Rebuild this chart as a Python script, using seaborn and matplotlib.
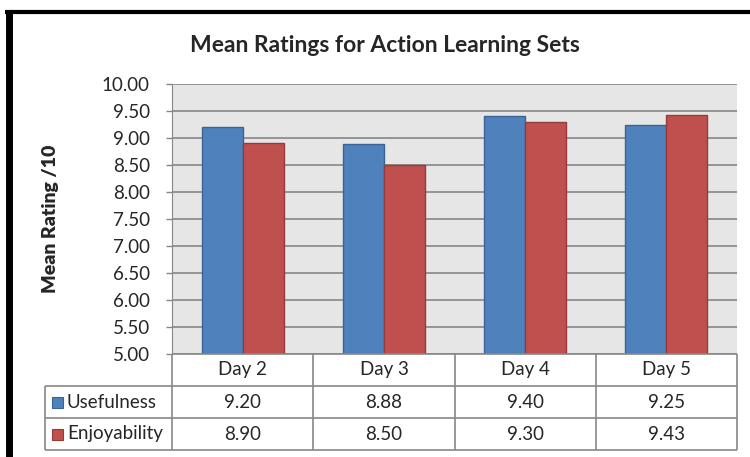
import pandas as pd
import seaborn as sns
import matplotlib.pyplot as plt
from matplotlib.lines import Line2D
from matplotlib.patches import Rectangle

days = ["Day 2", "Day 3", "Day 4", "Day 5"]
series = ["Usefulness", "Enjoyability"]
usefulness = [9.20, 8.88, 9.40, 9.25]
enjoyability = [8.90, 8.50, 9.30, 9.43]
yticks = [5.0, 5.5, 6.0, 6.5, 7.0, 7.5, 8.0, 8.5, 9.0, 9.5, 10.0]

colors = {"Usefulness": "#4F81BD", "Enjoyability": "#C0504D"}
edges = {"Usefulness": "#3B6394", "Enjoyability": "#953B39"}

df = pd.DataFrame({
    "Day": days * 2,
    "Series": ["Usefulness"] * 4 + ["Enjoyability"] * 4,
    "Rating": usefulness + enjoyability,
})

sns.set_style("white")
plt.rcParams["font.family"] = ["Lato", "DejaVu Sans"]

W, H = 750, 457
fig = plt.figure(figsize=(7.5, 4.57), dpi=100)

# plot area in pixels: x 172-737, y 84-354
ax = fig.add_axes([172 / W, 1 - 354 / H, 565 / W, 270 / H])
sns.barplot(data=df, x="Day", y="Rating", hue="Series", palette=colors,
            width=0.58, ax=ax, legend=False, saturation=1)
for patch, s in zip(ax.patches, ["Usefulness"] * 4 + ["Enjoyability"] * 4):
    patch.set_edgecolor(edges[s])
    patch.set_linewidth(1)

ax.set_facecolor("#E6E6E6")
ax.set_ylim(5, 10)
ax.set_xlim(-0.5, 3.5)
ax.set_yticks(yticks)
ax.set_yticklabels([f"{v:.2f}" for v in yticks], fontsize=13.5)
ax.set_xticks([])
ax.set_xlabel("")
ax.set_ylabel("Mean Rating /10", fontsize=14, fontweight="heavy")
ax.yaxis.set_label_coords((59 - 172) / 565, 0.5)
ax.yaxis.grid(True, color="#878787", linewidth=1.2)
ax.set_axisbelow(True)
ax.tick_params(axis="y", length=4, width=1, color="#878787", pad=12, left=True)
for side in ["top", "right", "bottom"]:
    ax.spines[side].set_visible(False)
ax.spines["left"].set_color("#878787")

fig.text(385 / W, 1 - 45 / H, "Mean Ratings for Action Learning Sets",
         ha="center", va="center", fontsize=16.5, fontweight="bold")


def fx(px):
    return px / W


def fy(py):
    return 1 - py / H


def hline(x0, x1, y, color="#878787", lw=1.2):
    fig.add_artist(Line2D([fx(x0), fx(x1)], [fy(y), fy(y)], color=color,
                          linewidth=lw, solid_capstyle="butt"))


def vline(x, y0, y1, color="#878787", lw=1.2):
    fig.add_artist(Line2D([fx(x), fx(x)], [fy(y0), fy(y1)], color=color,
                          linewidth=lw, solid_capstyle="butt"))


# data table under the plot
col_edges = [172, 313, 455, 596, 737]
row_edges = [354, 386, 418, 450]
hline(172, 737, 354)
for y in row_edges[1:]:
    hline(45, 737, y)
vline(45, 386, 450)
for x in col_edges:
    vline(x, 354, 450)

for i, d in enumerate(days):
    xc = (col_edges[i] + col_edges[i + 1]) / 2
    fig.text(fx(xc), fy(370), d, ha="center", va="center", fontsize=13.5)

for r, (name, vals) in enumerate(zip(series, [usefulness, enjoyability])):
    yc = (row_edges[r + 1] + row_edges[r + 2]) / 2
    fig.add_artist(Rectangle((fx(52), fy(yc + 5.5)), 11 / W, 11 / H,
                             facecolor=colors[name], edgecolor=edges[name],
                             linewidth=0.8, transform=fig.transFigure))
    fig.text(fx(67), fy(yc), name, ha="left", va="center", fontsize=13.5)
    for i, v in enumerate(vals):
        xc = (col_edges[i] + col_edges[i + 1]) / 2
        fig.text(fx(xc), fy(yc), f"{v:.2f}", ha="center", va="center", fontsize=13.5)

# black frame (left and top edges visible)
fig.add_artist(Line2D([fx(5), fx(750)], [fy(12), fy(12)], color="black",
                      linewidth=3, solid_capstyle="butt"))
fig.add_artist(Line2D([fx(8.5), fx(8.5)], [fy(10), fy(457)], color="black",
                      linewidth=5, solid_capstyle="butt"))

fig.savefig("out.png", dpi=100)
